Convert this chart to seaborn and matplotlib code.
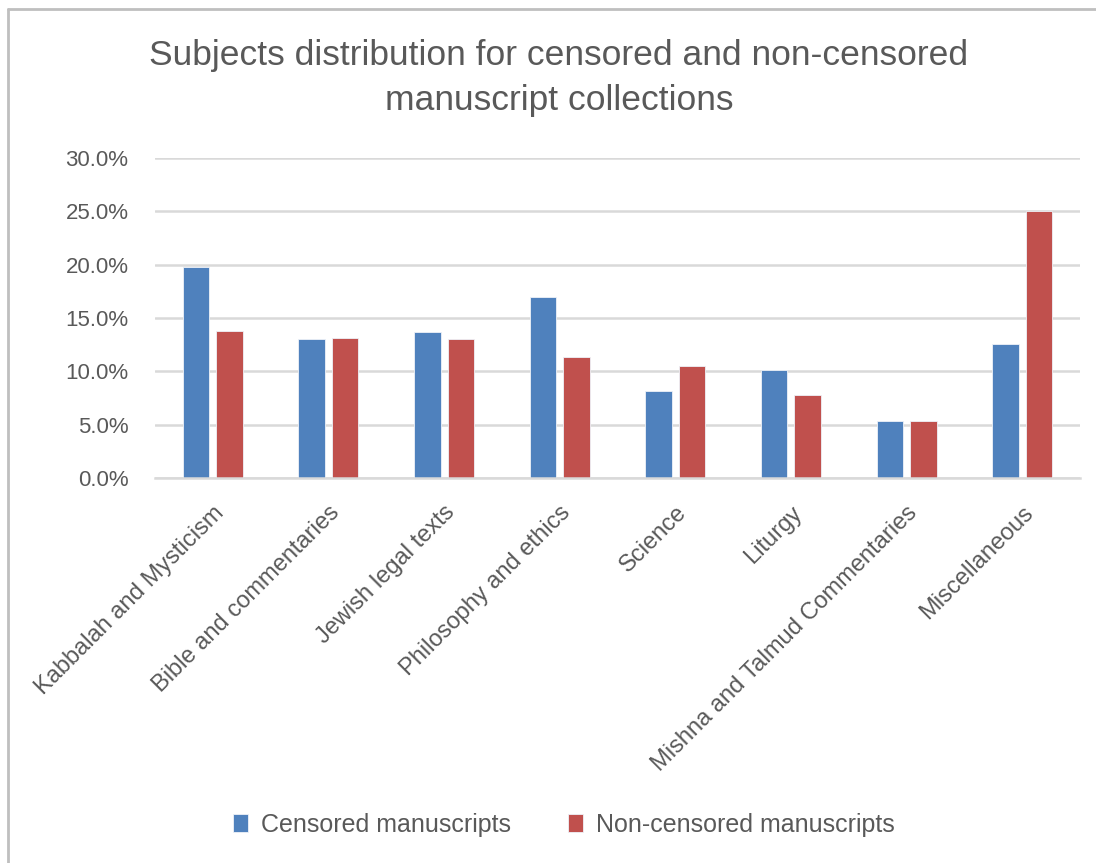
import matplotlib.pyplot as plt
import seaborn as sns
import pandas as pd
from matplotlib.lines import Line2D
from matplotlib.ticker import PercentFormatter

# Dữ liệu (phần trăm)
subjects = [
    "Kabbalah and Mysticism",
    "Bible and commentaries",
    "Jewish legal texts",
    "Philosophy and ethics",
    "Science",
    "Liturgy",
    "Mishna and Talmud Commentaries",
    "Miscellaneous",
]
censored = [19.8, 13.0, 13.7, 17.0, 8.2, 10.1, 5.3, 12.6]
non_censored = [13.8, 13.1, 13.0, 11.3, 10.5, 7.8, 5.3, 25.0]
series_names = ["Censored manuscripts", "Non-censored manuscripts"]

df = pd.DataFrame({
    "Subject": subjects * 2,
    "Share": censored + non_censored,
    "Collection": [series_names[0]] * len(subjects) + [series_names[1]] * len(subjects),
})

sns.set_style("white")
plt.rcParams["font.family"] = ["Liberation Sans", "DejaVu Sans"]
text_color = "#595959"
grid_color = "#D9D9D9"

fig = plt.figure(figsize=(10.96, 8.63), dpi=100)
ax = fig.add_axes([0.1414, 0.4461, 0.844, 0.3708])

sns.barplot(
    data=df, x="Subject", y="Share", hue="Collection",
    palette=["#4F81BD", "#C0504D"], saturation=1, width=0.58, gap=0.21,
    edgecolor="#EEF2F8", linewidth=0.6, ax=ax, legend=True,
)

ax.set_ylim(0, 30)
ax.set_yticks([0, 5, 10, 15, 20, 25, 30])
ax.yaxis.set_major_formatter(PercentFormatter(decimals=1))
ax.set_xlim(-0.5, len(subjects) - 0.5)
ax.grid(axis="y", color=grid_color, linewidth=1.8)
ax.set_axisbelow(True)
for s in ["top", "right", "left"]:
    ax.spines[s].set_visible(False)
ax.spines["bottom"].set_color(grid_color)
ax.spines["bottom"].set_linewidth(1.8)
ax.tick_params(axis="both", length=0, labelcolor=text_color)
ax.tick_params(axis="y", pad=19, labelsize=16)
ax.tick_params(axis="x", pad=17, labelsize=17)
for lab in ax.get_xticklabels():
    lab.set_rotation(45)
    lab.set_ha("right")
    lab.set_va("top")
    lab.set_rotation_mode("anchor")
ax.set_xlabel("")
ax.set_ylabel("")

# Chú thích
handles, labels = ax.get_legend_handles_labels()
ax.get_legend().remove()
fig.legend(
    handles, labels, loc="center", bbox_to_anchor=(564 / 1096, 1 - 825 / 863),
    ncol=2, frameon=False, fontsize=18, labelcolor=text_color,
    handlelength=0.6, handleheight=0.75, handletextpad=0.5, columnspacing=2.3,
)

fig.text(
    559 / 1096, 1 - 78 / 863,
    "Subjects distribution for censored and non-censored\nmanuscript collections",
    ha="center", va="center", fontsize=25.5, color=text_color, linespacing=1.45,
)

# Khung viền trái và trên
fig.add_artist(Line2D([8 / 1096, 8 / 1096], [0, 1 - 9 / 863], transform=fig.transFigure,
                      color="#BFBFBF", linewidth=2))
fig.add_artist(Line2D([8 / 1096, 1], [1 - 9 / 863, 1 - 9 / 863], transform=fig.transFigure,
                      color="#BFBFBF", linewidth=2))

fig.savefig("out.png", dpi=100, facecolor="white")
